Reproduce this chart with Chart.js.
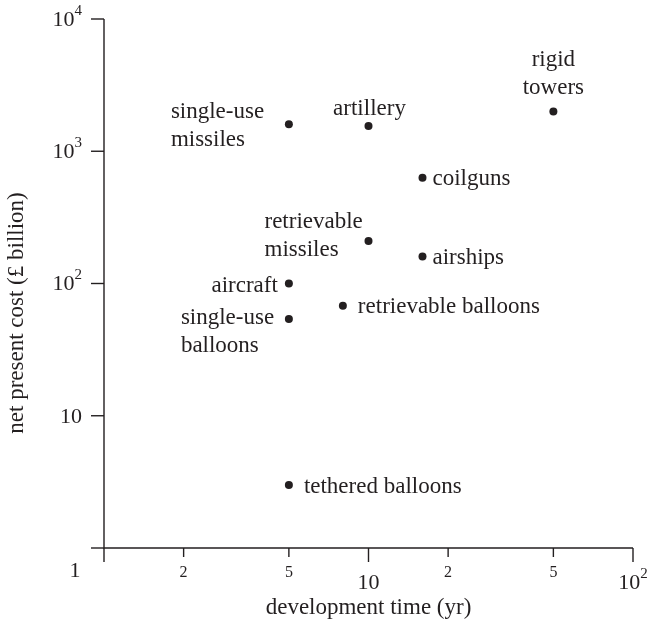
<!DOCTYPE html>
<html>
<head>
<meta charset="utf-8">
<script src="https://cdn.jsdelivr.net/npm/chart.js@4/dist/chart.umd.min.js"></script>
<style>
    html, body { margin: 0; padding: 0; background: #fff; }
    #chart { display: block; }
</style>
</head>
<body>
<canvas id="chart" width="651" height="628"></canvas>
<script>
// data
const names = [
    'single-use\nmissiles', 'artillery', 'rigid\ntowers', 'coilguns',
    'retrievable\nmissiles', 'airships', 'aircraft', 'retrievable balloons',
    'single-use\nballoons', 'tethered balloons'
];
const devTime = [5, 10, 50, 16, 10, 16, 5, 8, 5, 5];
const cost = [1600, 1550, 2000, 630, 210, 160, 100, 68, 54, 3];

const xTicks = [1, 2, 5, 10, 20, 50, 100];
const xTickLabels = ['', '2', '5', '10', '2', '5', '10^2'];
const yTicks = [1, 10, 100, 1000, 10000];
const yTickLabels = ['', '10', '10^2', '10^3', '10^4'];
const originLabel = '1';

const xTitle = 'development time (yr)';
const yTitle = 'net present cost (£ billion)';

// where each label sits next to its dot (align, dx, dy of first baseline)
const labelPlace = [
    ['left', -118, -6],
    ['center', 1, -11],
    ['center', 0, -45],
    ['left', 10, 7],
    ['left', -104, -13],
    ['left', 10, 7],
    ['right', -11, 8],
    ['left', 15, 7],
    ['left', -108, 5],
    ['left', 15, 8]
];

const INK = '#231f20';
const SERIF = '"Liberation Serif", "Times New Roman", serif';

function drawPow(ctx, label, x, y, align, size) {
    const [base, exp] = label.split('^');
    ctx.font = `${size}px ${SERIF}`;
    const wb = ctx.measureText(base).width;
    const expSize = Math.round(size * 0.68);
    let we = 0;
    if (exp) {
        ctx.font = `${expSize}px ${SERIF}`;
        we = ctx.measureText(exp).width;
    }
    const total = wb + we;
    let x0 = x;
    if (align === 'center') x0 = x - total / 2;
    if (align === 'right') x0 = x - total;
    ctx.textAlign = 'left';
    ctx.textBaseline = 'middle';
    ctx.font = `${size}px ${SERIF}`;
    ctx.fillText(base, x0, y);
    if (exp) {
        ctx.font = `${expSize}px ${SERIF}`;
        ctx.fillText(exp, x0 + wb, y - size * 0.42);
    }
}

const axesPlugin = {
    id: 'axesPlugin',
    afterDraw(chart) {
        const ctx = chart.ctx;
        const xs = chart.scales.x;
        const ys = chart.scales.y;
        const area = chart.chartArea;
        ctx.save();
        ctx.strokeStyle = INK;
        ctx.fillStyle = INK;
        ctx.lineWidth = 1.4;

        // axis lines
        ctx.beginPath();
        ctx.moveTo(area.left, area.top);
        ctx.lineTo(area.left, area.bottom);
        ctx.lineTo(area.right, area.bottom);
        ctx.stroke();

        // x ticks, pointing down
        xTicks.forEach((v, i) => {
            const px = xs.getPixelForValue(v);
            const major = Math.abs(Math.log10(v) % 1) < 1e-9;
            ctx.beginPath();
            ctx.moveTo(px, area.bottom);
            ctx.lineTo(px, area.bottom + (major ? 14 : 9));
            ctx.stroke();
            if (xTickLabels[i]) {
                if (major) drawPow(ctx, xTickLabels[i], px, area.bottom + 35, 'center', 22);
                else drawPow(ctx, xTickLabels[i], px, area.bottom + 25, 'center', 16);
            }
        });

        // y ticks, pointing left
        yTicks.forEach((v, i) => {
            const py = ys.getPixelForValue(v);
            ctx.beginPath();
            ctx.moveTo(area.left - 13, py);
            ctx.lineTo(area.left, py);
            ctx.stroke();
            if (yTickLabels[i]) drawPow(ctx, yTickLabels[i], area.left - 22, py + 1, 'right', 22);
        });

        // shared origin label
        drawPow(ctx, originLabel, area.left - 29, area.bottom + 23, 'center', 22);

        // titles
        ctx.font = `23px ${SERIF}`;
        ctx.textAlign = 'center';
        ctx.textBaseline = 'middle';
        ctx.fillText(xTitle, (area.left + area.right) / 2, area.bottom + 60);
        ctx.translate(17, 313);
        ctx.rotate(-Math.PI / 2);
        ctx.fillText(yTitle, 0, 0);
        ctx.restore();
    }
};

const labelsPlugin = {
    id: 'labelsPlugin',
    afterDatasetsDraw(chart) {
        const ctx = chart.ctx;
        const meta = chart.getDatasetMeta(0);
        ctx.save();
        ctx.fillStyle = INK;
        ctx.font = `23px ${SERIF}`;
        ctx.textBaseline = 'alphabetic';
        meta.data.forEach((pt, i) => {
            const [align, dx, dy] = labelPlace[i];
            ctx.textAlign = align;
            names[i].split('\n').forEach((line, j) => {
                ctx.fillText(line, pt.x + dx, pt.y + dy + j * 28);
            });
        });
        ctx.restore();
    }
};

new Chart(document.getElementById('chart'), {
    type: 'scatter',
    data: {
        datasets: [{
            data: devTime.map((t, i) => ({ x: t, y: cost[i] })),
            pointRadius: 4,
            pointBackgroundColor: INK,
            pointBorderWidth: 0
        }]
    },
    options: {
        responsive: false,
        animation: false,
        events: [],
        layout: { padding: { left: 104, right: 18, top: 19, bottom: 80 } },
        plugins: {
            legend: { display: false },
            tooltip: { enabled: false }
        },
        scales: {
            x: { type: 'logarithmic', min: 1, max: 100, display: false },
            y: { type: 'logarithmic', min: 1, max: 10000, display: false }
        }
    },
    plugins: [axesPlugin, labelsPlugin]
});
</script>
</body>
</html>
